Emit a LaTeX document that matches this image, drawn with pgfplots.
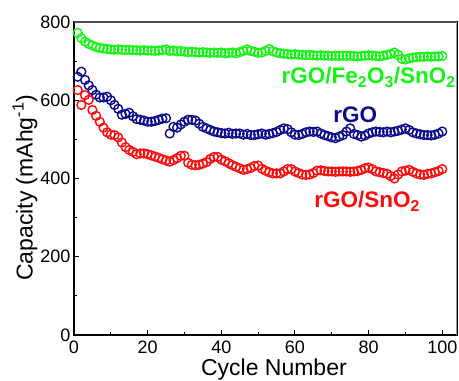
\documentclass[border=0pt]{standalone}
\usepackage{pgfplots}
\usepackage{pgfplotstable}
\pgfplotsset{compat=1.18}
\usepackage{fontspec}
\setmainfont{Liberation Sans}
\definecolor{cgreen}{RGB}{20,245,20}
\definecolor{cblue}{RGB}{10,10,140}
\definecolor{cred}{RGB}{255,10,10}

\pgfplotstableread{
x g b r
1 772 660 626
2 759 673 588
3 750 652 613
4 744 638 601
5 740 626 575
6 736 614 560
7 734 607 545
8 732 607 530
9 731 609 518
10 730 600 512
11 729 588 511
12 730 578 505
13 729 563 492
14 728 565 480
15 729 568 473
16 728 559 468
17 728 552 462
18 727 550 464
19 728 548 464
20 727 545 462
21 727 545 459
22 726 547 456
23 727 550 453
24 728 553 449
25 730 554 446
26 726 515 443
27 727 532 447
28 725 530 452
29 726 538 458
30 724 545 458
31 723 550 440
32 724 550 435
33 723 548 434
34 722 540 435
35 723 532 438
36 722 528 442
37 721 524 450
38 722 520 455
39 721 518 455
40 722 516 448
41 720 515 444
42 721 517 439
43 722 514 434
44 720 515 430
45 723 515 426
46 726 512 422
47 730 514 424
48 726 511 427
49 724 511 432
50 721 513 433
51 722 515 425
52 726 512 420
53 731 514 416
54 725 516 413
55 722 519 413
56 720 524 413
57 719 528 418
58 718 526 424
59 717 518 424
60 718 512 418
61 716 511 414
62 716 514 410
63 715 518 409
64 716 520 410
65 715 519 414
66 714 520 420
67 715 515 421
68 714 511 419
69 714 508 418
70 713 505 418
71 714 503 417
72 713 507 418
73 714 511 418
74 713 520 418
75 714 528 417
76 713 514 418
77 712 511 419
78 713 507 422
79 714 510 426
80 715 515 428
81 714 518 424
82 713 520 418
83 712 519 416
84 714 518 414
85 716 520 412
86 718 518 406
87 722 520 400
88 716 522 410
89 706 525 418
90 704 528 420
91 707 524 422
92 709 518 417
93 710 515 413
94 711 513 410
95 711 511 409
96 712 511 412
97 711 510 413
98 712 512 416
99 712 515 419
100 713 520 424
}\data

\begin{document}
\begin{tikzpicture}
\begin{axis}[
  scale only axis, width=383pt, height=313pt,
  xmin=0, xmax=104, ymin=0, ymax=800,
  xtick={0,20,...,100}, ytick={0,200,...,800},
  minor x tick num=1, minor y tick num=1,
  tick align=inside, tick pos=left,
  major tick length=5pt, minor tick length=3pt,
  tick style={black, line width=1pt},
  axis line style={black, line width=1.2pt},
  /pgf/number format/assume math mode=true,
  ticklabel style={font=\fontsize{18}{20}\selectfont},
  xticklabel style={yshift=-2pt},
  xlabel={Cycle Number},
  ylabel={Capacity (mAhg\textsuperscript{-1})},
  label style={font=\fontsize{23}{26}\selectfont},
  xlabel style={at={(axis description cs:0.522,-0.128)}, anchor=base},
  ylabel style={at={(axis description cs:-0.128,0.47)}, anchor=center},
]
\addplot[only marks, mark=o, mark size=4.4pt, cgreen, mark options={line width=1.4pt}] table[x=x,y=g] {\data};
\addplot[only marks, mark=o, mark size=4.4pt, cblue, mark options={line width=1.4pt}] table[x=x,y=b] {\data};
\addplot[only marks, mark=o, mark size=4.4pt, cred, mark options={line width=1.4pt}] table[x=x,y=r] {\data};
\draw[draw=black!70, line width=1.5pt] (rel axis cs:0,1) -- (rel axis cs:1,1);
\draw[draw=black!40, line width=1pt] (rel axis cs:1,0) -- (rel axis cs:1,1);
\node[anchor=base, text=cgreen, font=\bfseries\fontsize{22.5}{25}\selectfont] at (axis cs:80,643) {rGO/Fe\textsubscript{2}O\textsubscript{3}/SnO\textsubscript{2}};
\node[anchor=base, text=cblue, font=\bfseries\fontsize{22.5}{25}\selectfont] at (axis cs:76.4,542) {rGO};
\node[anchor=base, text=cred, font=\bfseries\fontsize{22.5}{25}\selectfont] at (axis cs:79.6,325) {rGO/SnO\textsubscript{2}};
\coordinate (SW) at (rel axis cs:0,0);
\coordinate (NE) at (rel axis cs:1,1);
\end{axis}
\pgfresetboundingbox
\path[use as bounding box] ([shift={(-74pt,-46pt)}]SW) rectangle ([shift={(2pt,22pt)}]NE);
\end{tikzpicture}
\end{document}
